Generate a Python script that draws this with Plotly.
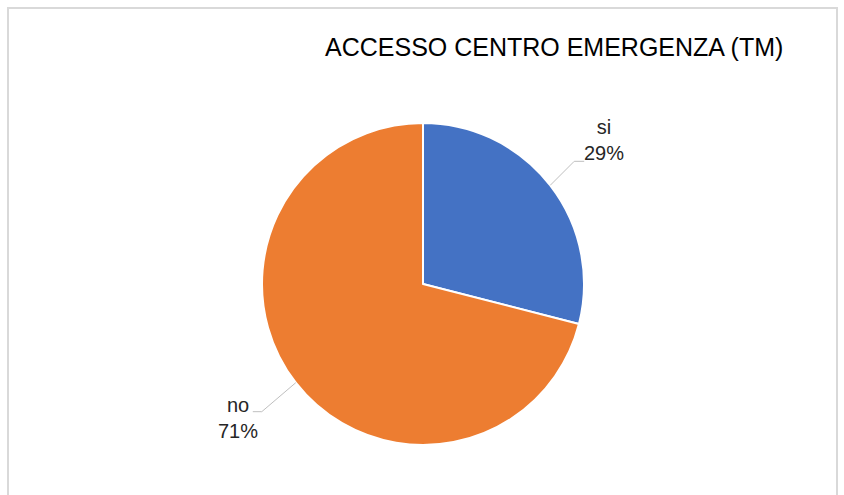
import math
import plotly.graph_objects as go

# Survey answers and their shares
labels = ["si", "no"]
values = [29, 71]
colors = ["#4472C4", "#ED7D31"]
title_text = "ACCESSO CENTRO EMERGENZA (TM)"

W, H = 844, 495
cx, cy, r = 423, 284, 161  # pie centre and radius in pixels

fig = go.Figure(
    go.Pie(
        labels=labels,
        values=values,
        marker=dict(colors=colors, line=dict(color="white", width=2)),
        sort=False,
        direction="clockwise",
        rotation=0,
        textinfo="none",
        hoverinfo="label+percent",
        domain=dict(
            x=[(cx - r) / W, (cx + r) / W],
            y=[(H - cy - r) / H, (H - cy + r) / H],
        ),
        showlegend=False,
    )
)

font = "Liberation Sans, Arial, sans-serif"

def px(x):
    return x / W

def py(y):
    return 1 - y / H

shapes = []
annotations = []
total = sum(values)
start = 0.0
for lab, v in zip(labels, values):
    frac = v / total
    mid = (start + frac / 2) * 2 * math.pi
    start += frac
    ex = cx + r * math.sin(mid)
    ey = cy - r * math.cos(mid)
    right = math.sin(mid) >= 0
    # elbow leader line: diagonal from the rim, then a short horizontal tail
    if right:
        kx, ky, hx = ex + 24, ey - 24, ex + 34
        tx, ty = hx + 20, ky - 21
    else:
        kx, ky, hx = ex - 34, ey + 29, ex - 43
        tx, ty = hx - 15, ky + 6
    shapes.append(dict(type="path",
                       path=f"M {px(ex)} {py(ey)} L {px(kx)} {py(ky)} L {px(hx)} {py(ky)}",
                       xref="paper", yref="paper",
                       line=dict(color="#BFBFBF", width=1)))
    pct = f"{round(100 * v / total)}%"
    annotations.append(dict(x=px(tx), y=py(ty), xref="paper", yref="paper",
                            text=f"{lab}<br>{pct}", showarrow=False,
                            align="center", xanchor="center", yanchor="middle",
                            font=dict(family=font, size=20, color="#262626")))

annotations.append(dict(x=px(554), y=py(47), xref="paper", yref="paper",
                        text=title_text, showarrow=False,
                        xanchor="center", yanchor="middle",
                        font=dict(family=font, size=25, color="#000000")))

# chart-area frame
shapes.append(dict(type="rect", x0=px(8), x1=px(837), y0=-0.05, y1=py(8),
                   xref="paper", yref="paper",
                   line=dict(color="#D9D9D9", width=2)))

fig.update_layout(
    width=W, height=H,
    margin=dict(l=0, r=0, t=0, b=0),
    paper_bgcolor="white",
    plot_bgcolor="white",
    shapes=shapes,
    annotations=annotations,
)

fig.write_html("out.html")
